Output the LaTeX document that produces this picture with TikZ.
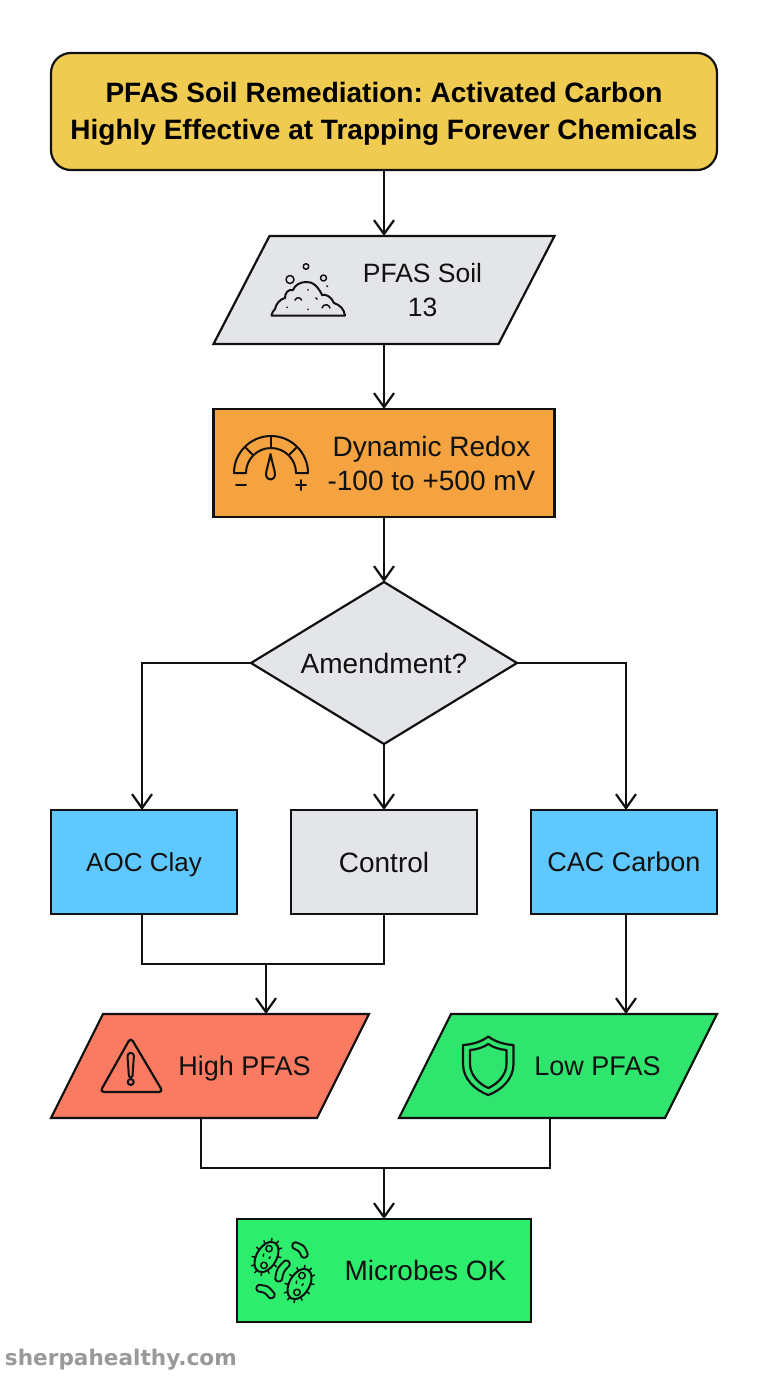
\documentclass[tikz,border=0pt]{standalone}
\usepackage{fontspec}
\setmainfont{Liberation Sans}
\newfontfamily\wmfont{DejaVu Sans}
\usetikzlibrary{arrows.meta,shapes.geometric,calc}
\definecolor{cTitle}{HTML}{F0CB52}
\definecolor{cGray}{HTML}{E3E5E8}
\definecolor{cOrange}{HTML}{F4A340}
\definecolor{cBlue}{HTML}{5FC9FF}
\definecolor{cRed}{HTML}{FA7B62}
\definecolor{cGreenA}{HTML}{30E56E}
\definecolor{cGreenB}{HTML}{2CEE6C}
\definecolor{cInk}{HTML}{111111}
\frenchspacing
\tikzset{
  x=1pt,y=-1pt,
  shapeline/.style={draw=cInk,line width=2.2pt,line join=miter},
  boxnode/.style={shapeline,rectangle,inner sep=0pt,outer sep=0pt,minimum width=#1},
  hiddenbox/.style={rectangle,inner sep=0pt,outer sep=0pt},
  labeltext/.style={text=cInk,inner sep=0pt,outer sep=0pt,align=center,font=\fontsize{#1}{34}\selectfont},
  labeltext/.default=27,
  titletext/.style={text=black,inner sep=0pt,outer sep=0pt,align=center,font=\fontsize{28}{37}\selectfont\bfseries},
  wire/.style={draw=cInk,line width=2.2pt},
  flow/.style={wire,-{Straight Barb[length=14pt,width=20pt,line width=2.2pt]}},
  icon/.style={draw=cInk,line width=2pt,line join=round,line cap=round},
  iconthin/.style={draw=cInk,line width=1.5pt,line join=round,line cap=round},
}
\newcommand{\parabox}[7]{%
  \node[hiddenbox,minimum width=#4pt,minimum height=#5pt] (#1) at (#2,#3) {};
  \path[shapeline,fill=#7]
    ($(#1.north west)+(#6,0)$) -- (#1.north east) -- ($(#1.south east)+(-#6,0)$) -- (#1.south west) -- cycle;
}
\newcommand{\bacterium}[3]{%
  \begin{scope}[shift={(#1,#2)},rotate=#3]
    \path[icon] (0,0) ellipse [x radius=16.5,y radius=10];
    \foreach \t in {10,40,...,350}{
      \path[iconthin] ({16.5*cos(\t)},{10*sin(\t)}) -- ({20*cos(\t)},{13.5*sin(\t)});
    }
    \path[iconthin] (8.5,-2) circle [radius=3.2];
    \path[iconthin] (-8.5,2) circle [radius=3.2];
    \path[iconthin] (0,3) -- (2,3) (-1,-3) -- (1,-4);
  \end{scope}
}
\newcommand{\capsule}[4]{%
  \begin{scope}[shift={(#1,#2)},rotate=#3]
    \path[icon,line width=1.9pt] (-#4,-3.6) .. controls (0,-6) .. (#4,-3.6)
      arc [start angle=-90,end angle=90,radius=3.6]
      .. controls (0,1.2) .. (-#4,3.6)
      arc [start angle=90,end angle=270,radius=3.6] -- cycle;
  \end{scope}
}
\begin{document}
\begin{tikzpicture}
\useasboundingbox[fill=white] (0,0) rectangle (768,1376);

% boxes
\node[boxnode=666pt,minimum height=117pt,rounded corners=20pt,fill=cTitle] (title) at (384,111.5) {};
\node[titletext] (titletxt) at (384,114) {PFAS Soil Remediation: Activated Carbon\\Highly Effective at Trapping Forever Chemicals};

\parabox{soil}{384}{290}{341}{108}{56}{cGray}
\node[labeltext=26.5] (soiltxt) at (422.5,290) {PFAS Soil\\13};

\node[boxnode=341pt,minimum height=108pt,fill=cOrange] (redox) at (384,463) {};
\node[labeltext=28] (redoxtxt) at (431.5,463) {Dynamic Redox\\-100 to +500 mV};

\node[shapeline,diamond,aspect=1.64,inner sep=0pt,outer sep=0pt,minimum width=266pt,minimum height=162pt,fill=cGray] (choice) at (384,663) {};
\node[labeltext=28] (choicetxt) at (384,663) {Amendment?};

\node[boxnode=186pt,minimum height=104pt,fill=cBlue] (aoc) at (144,862) {};
\node[labeltext=26] (aoctxt) at (144,865) {AOC Clay};
\node[boxnode=186pt,minimum height=104pt,fill=cGray] (control) at (384,862) {};
\node[labeltext=28] (controltxt) at (384,862) {Control};
\node[boxnode=186pt,minimum height=104pt,fill=cBlue] (cac) at (624,862) {};
\node[labeltext=27] (cactxt) at (624,862) {CAC Carbon};

\parabox{high}{210}{1066}{318}{104}{52}{cRed}
\node[labeltext=27] (hightxt) at (244.5,1069) {High PFAS};
\parabox{low}{558}{1066}{318}{104}{52}{cGreenA}
\node[labeltext=27] (lowtxt) at (597.5,1066) {Low PFAS};

\node[boxnode=294pt,minimum height=103pt,fill=cGreenB] (microbes) at (384,1270.5) {};
\node[labeltext=28] (microbestxt) at (425.5,1270.5) {Microbes OK};

\node[text=black!40,inner sep=0pt,outer sep=0pt,anchor=base west,font=\wmfont\fontsize{21.6}{23}\selectfont\bfseries] (wm) at (5,1365) {sherpahealthy.com};

% connectors
\coordinate (mergeA) at (266,964);
\coordinate (mergeB) at (384,1168);
\path[flow] (title.south) -- (soil.north);
\path[flow] (soil.south) -- (redox.north);
\path[flow] (redox.south) -- (choice.north);
\path[flow] (choice.south) -- (control.north);
\path[flow] (choice.west) -| ([xshift=-2pt]aoc.north);
\path[flow] (choice.east) -| ([xshift=2pt]cac.north);
\path[wire] ([xshift=-2pt]aoc.south) |- (mergeA) -| (control.south);
\path[flow] (mergeA) -- (mergeA |- high.north);
\path[flow] ([xshift=2pt]cac.south) -- ([xshift=2pt]cac.south |- low.north);
\path[wire] ([xshift=-9pt]high.south) |- (mergeB) -| ([xshift=-8pt]low.south);
\path[flow] (mergeB) -- (microbes.north);

% soil icon
\path[icon] (271.5,315.5) -- (345,315.5)
  .. controls (344,309) and (340,305) .. (334,303)
  .. controls (331,297) and (327,294) .. (322,295)
  .. controls (319,288) and (313,281) .. (306,282)
  .. controls (300,282) and (295,285) .. (293,290)
  .. controls (288,289) and (285,293) .. (285,298)
  .. controls (280,299) and (276,304) .. (275,309)
  .. controls (273,311) and (272,313) .. (271.5,315.5) -- cycle;
\path[iconthin] (290,279.5) circle [radius=4];
\path[iconthin] (306,266.5) circle [radius=2.8];
\path[iconthin] (323.5,278) circle [radius=3];
\path[iconthin] (295,300) arc [start angle=200,end angle=340,radius=3.5];
\path[iconthin] (322,308) arc [start angle=190,end angle=350,radius=4];
\path[iconthin] (287,307) -- (287,307.5) (308,289.5) -- (308,290) (316,298) -- (317,299) (308,309) -- (308,309.5) (327,286) -- (327.5,286.5);

% gauge icon
\path[icon] (234,473) arc [start angle=180,end angle=360,radius=37] -- (296,473)
  arc [start angle=360,end angle=180,radius=25] -- cycle;
\path[icon] (271,436) -- (271,448);
\path[icon] (245,447) -- (253,455);
\path[icon] (297,447) -- (289,455);
\path[icon] (270.5,454) .. controls (268,466) and (266,471) .. (266,475) arc [start angle=180,end angle=0,radius=4.5] .. controls (275,471) and (273,466) .. (270.5,454) -- cycle;
\path[icon] (236,484.5) -- (246,484.5);
\path[icon] (296,485) -- (306,485) (301,480) -- (301,490);

% warning icon
\path[icon,line width=2.2pt,rounded corners=4pt] (130.7,1037.5) -- (163,1092) -- (100,1092) -- cycle;
\path[icon] (127.5,1056) arc [start angle=180,end angle=360,radius=3.2] -- (132.5,1076) arc [start angle=0,end angle=180,radius=1.8] -- cycle;
\path[icon] (130.7,1082) circle [radius=3];

% shield icon
\path[icon,line width=2.2pt] (488.3,1036.5) .. controls (481,1042) and (472,1044.5) .. (463,1045) -- (463,1064) .. controls (463,1079) and (475,1090) .. (488.3,1095) .. controls (501.5,1090) and (513.5,1079) .. (513.5,1064) -- (513.5,1045) .. controls (504.5,1044.5) and (495.5,1042) .. (488.3,1036.5) -- cycle;
\path[icon,line width=2.2pt] (488.3,1044) .. controls (483,1047.5) and (477,1049.5) .. (470,1050) -- (470,1064) .. controls (470,1075) and (479,1084) .. (488.3,1088) .. controls (497.5,1084) and (506.5,1075) .. (506.5,1064) -- (506.5,1050) .. controls (499.5,1049.5) and (493.5,1047.5) .. (488.3,1044) -- cycle;

% microbes icon
\bacterium{266.5}{1257}{60}
\bacterium{299.5}{1284}{60}
\capsule{300}{1250}{-45}{6}
\capsule{282.5}{1271}{62}{8}
\capsule{265.5}{1291.5}{-30}{6.5}
\end{tikzpicture}
\end{document}
